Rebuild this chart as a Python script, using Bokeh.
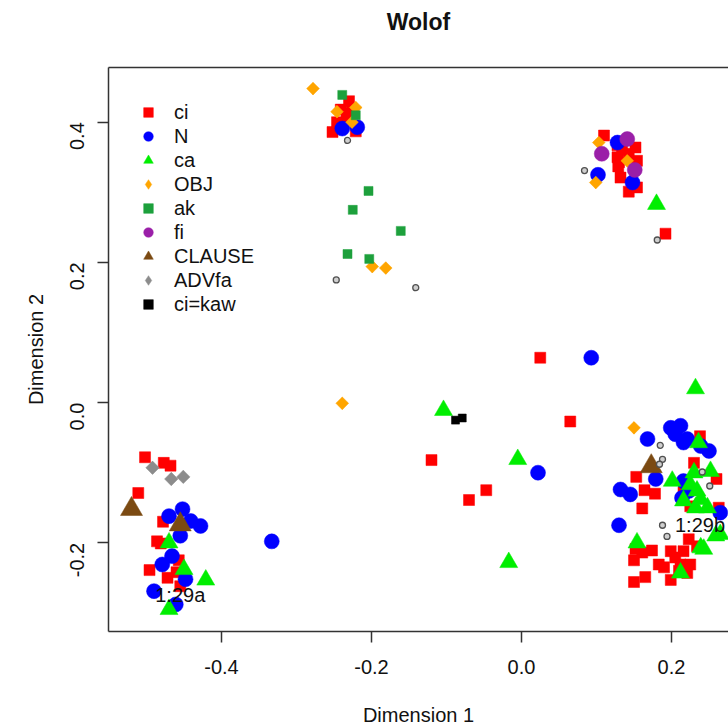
import math
from bokeh.plotting import figure
from bokeh.models import Range1d, FixedTicker, LinearAxis, Legend, LegendItem, ColumnDataSource
from bokeh.core.properties import value
from bokeh.embed import file_html
from bokeh.resources import INLINE

title_text = "Wolof"
x_label = "Dimension 1"
y_label = "Dimension 2"
x_ticks = [-0.4, -0.2, 0.0, 0.2]
x_tick_labels = ["-0.4", "-0.2", "0.0", "0.2"]
y_ticks = [-0.2, 0.0, 0.2, 0.4]
y_tick_labels = ["-0.2", "0.0", "0.2", "0.4"]

ci_x = [-0.502, -0.477, -0.468, -0.511, -0.478, -0.486, -0.481, -0.457, -0.496, -0.460, -0.472, -0.455,
        -0.230, -0.241, -0.233, -0.226, -0.246, -0.233, -0.252, -0.221,
        0.110, 0.128, 0.134, 0.128, 0.143, 0.152, 0.154, 0.130, 0.129, 0.132, 0.143, 0.154, 0.192,
        0.025, 0.065, -0.120, -0.047, -0.070,
        0.238, 0.230, 0.153, 0.164, 0.178, 0.260, 0.216, 0.161, 0.263, 0.225,
        0.152, 0.161, 0.174, 0.150, 0.183, 0.190, 0.199, 0.205, 0.216, 0.223, 0.234, 0.212,
        0.225, 0.210, 0.165, 0.150, 0.199, 0.221]
ci_y = [-0.078, -0.086, -0.090, -0.129, -0.170, -0.198, -0.201, -0.225, -0.239, -0.242, -0.250, -0.262,
        0.430, 0.418, 0.413, 0.417, 0.400, 0.403, 0.386, 0.387,
        0.381, 0.367, 0.360, 0.350, 0.355, 0.364, 0.345, 0.343, 0.337, 0.321, 0.301, 0.307, 0.241,
        0.064, -0.027, -0.082, -0.125, -0.139,
        -0.048, -0.086, -0.106, -0.125, -0.130, -0.109, -0.128, -0.151, -0.150, -0.148,
        -0.209, -0.214, -0.211, -0.225, -0.231, -0.235, -0.212, -0.221, -0.212, -0.195, -0.205, -0.231,
        -0.231, -0.240, -0.249, -0.256, -0.253, -0.243]

n_x = [-0.470, -0.452, -0.441, -0.428, -0.455, -0.466, -0.479, -0.448, -0.490, -0.461, -0.333,
       -0.239, -0.219,
       0.128, 0.102, 0.148,
       0.093, 0.022,
       0.168, 0.199, 0.212, 0.205, 0.221, 0.216, 0.239, 0.250, 0.179, 0.132, 0.145, 0.216, 0.223,
       0.214, 0.130, 0.265]
n_y = [-0.162, -0.152, -0.169, -0.176, -0.190, -0.219, -0.231, -0.252, -0.269, -0.288, -0.198,
       0.391, 0.393,
       0.371, 0.325, 0.314,
       0.064, -0.100,
       -0.052, -0.036, -0.033, -0.045, -0.052, -0.057, -0.062, -0.069, -0.109, -0.124, -0.131, -0.112, -0.126,
       -0.136, -0.175, -0.157]

ca_x = [-0.470, -0.450, -0.421, -0.470,
        0.180, -0.104, -0.005, -0.017,
        0.232, 0.236, 0.201, 0.230, 0.252, 0.225, 0.234, 0.239, 0.232, 0.216, 0.248, 0.265, 0.239,
        0.154, 0.243, 0.259, 0.212]
ca_y = [-0.200, -0.238, -0.253, -0.295,
        0.283, -0.011, -0.081, -0.228,
        0.020, -0.057, -0.112, -0.100, -0.098, -0.117, -0.126, -0.138, -0.150, -0.140, -0.150, -0.188, -0.207,
        -0.200, -0.209, -0.190, -0.243]

obj_x = [-0.278, -0.221, -0.246, -0.226, -0.199, -0.181, -0.239, 0.103, 0.141, 0.099, 0.150]
obj_y = [0.448, 0.421, 0.415, 0.400, 0.194, 0.192, -0.001, 0.371, 0.345, 0.314, -0.036]

ak_x = [-0.239, -0.221, -0.204, -0.225, -0.161, -0.232, -0.203]
ak_y = [0.439, 0.410, 0.302, 0.275, 0.245, 0.212, 0.205]

fi_x = [0.141, 0.107, 0.151]
fi_y = [0.376, 0.355, 0.332]

clause_x = [-0.520, -0.455, 0.173]
clause_y = [-0.152, -0.174, -0.091]

advfa_x = [-0.492, -0.467, -0.451]
advfa_y = [-0.093, -0.109, -0.106]

cikaw_x = [-0.088, -0.079]
cikaw_y = [-0.025, -0.022]

other_x = [-0.232, -0.247, -0.141, 0.084, 0.181, 0.185, 0.188, 0.184, 0.241, 0.251, 0.188, 0.194]
other_y = [0.374, 0.175, 0.164, 0.331, 0.232, -0.061, -0.081, -0.088, -0.099, -0.119, -0.175, -0.191]

note_x = [-0.455, 0.238]
note_y = [-0.274, -0.175]
note_text = ["1:29a", "1:29b"]

FONT = "Liberation Sans"
FS = "20px"
FRAME = "#333333"
INK = "#111111"

p = figure(width=728, height=728,
           x_range=Range1d(-0.5507, 0.2760), y_range=Range1d(-0.3266, 0.4781),
           output_backend="svg", toolbar_location=None,
           min_border_left=108, min_border_right=0, min_border_top=67, min_border_bottom=97)
p.outline_line_color = None
p.grid.visible = False
p.background_fill_color = "white"

for ax in (p.xaxis[0], p.yaxis[0]):
    ax.axis_line_color = FRAME
    ax.axis_line_width = 1.5
    ax.major_tick_line_color = FRAME
    ax.major_tick_line_width = 1.5
    ax.major_tick_out = 11
    ax.major_tick_in = 0
    ax.minor_tick_line_color = None
    ax.major_label_text_font = FONT
    ax.major_label_text_font_size = FS
    ax.major_label_text_color = INK
    ax.axis_label_text_font = FONT
    ax.axis_label_text_font_size = FS
    ax.axis_label_text_font_style = "normal"
    ax.axis_label_text_color = INK

p.xaxis[0].ticker = FixedTicker(ticks=x_ticks)
p.xaxis[0].major_label_overrides = {t: s for t, s in zip(x_ticks, x_tick_labels)}
p.xaxis[0].axis_label = x_label
p.xaxis[0].major_label_standoff = 17
p.xaxis[0].axis_label_standoff = 27

p.yaxis[0].ticker = FixedTicker(ticks=y_ticks)
p.yaxis[0].major_label_overrides = {t: s for t, s in zip(y_ticks, y_tick_labels)}
p.yaxis[0].axis_label = y_label
p.yaxis[0].major_label_orientation = math.pi / 2
p.yaxis[0].major_label_standoff = 20
p.yaxis[0].axis_label_standoff = 14

# top frame line; it also carries the chart title as its label
top_axis = LinearAxis(ticker=FixedTicker(ticks=[]), axis_line_color=FRAME, axis_line_width=1.5,
                      major_tick_line_color=None, minor_tick_line_color=None,
                      major_label_text_font_size="0px",
                      axis_label=title_text, axis_label_text_font=FONT,
                      axis_label_text_font_size="23px", axis_label_text_font_style="bold",
                      axis_label_text_color=INK, axis_label_standoff=33)
p.add_layout(top_axis, "above")

series = [
    ("ci", ci_x, ci_y, "square", "#FF0000", 11, 0.0),
    ("N", n_x, n_y, "circle", "#0000FF", 15, 0.0),
    ("ca", ca_x, ca_y, "triangle", "#00EE00", 18, 0.0),
    ("OBJ", obj_x, obj_y, "square", "#FFA500", 9, math.pi / 4),
    ("ak", ak_x, ak_y, "square", "#1DA03C", 9, 0.0),
    ("fi", fi_x, fi_y, "circle", "#9A1FA8", 15, 0.0),
    ("CLAUSE", clause_x, clause_y, "triangle", "#7B4A12", 22, 0.0),
    ("ADVfa", advfa_x, advfa_y, "square", "#8C8C8C", 9.5, math.pi / 4),
    ("ci=kaw", cikaw_x, cikaw_y, "square", "#000000", 8, 0.0),
]

items = []
for name, xs, ys, marker, color, size, ang in series:
    src = ColumnDataSource(dict(x=xs, y=ys))
    if ang != 0.0:
        # a plain diamond underneath (hidden by the rotated square) gives the legend swatch,
        # since legend glyphs ignore the rotation
        r_leg = p.scatter("x", "y", source=src, marker="diamond", size=size * 1.3,
                          fill_color=color, line_color=color, line_width=0.5)
        p.scatter("x", "y", source=src, marker=marker, size=size, angle=ang,
                  fill_color=color, line_color=color, line_width=0.5)
        items.append(LegendItem(label=name, renderers=[r_leg]))
    else:
        r = p.scatter("x", "y", source=src, marker=marker, size=size, angle=ang,
                      fill_color=color, line_color=color, line_width=0.5)
        items.append(LegendItem(label=name, renderers=[r]))

osrc = ColumnDataSource(dict(x=other_x, y=other_y))
p.scatter("x", "y", source=osrc, marker="circle", size=6, fill_color="#cfcfcf",
          line_color="#505050", line_width=1.3)

nsrc = ColumnDataSource(dict(x=note_x, y=note_y, t=note_text))
p.text("x", "y", text="t", source=nsrc, text_align="center", text_baseline="middle",
       text_font=value(FONT), text_font_size=FS, text_color=INK)

legend = Legend(items=items, location=(28, 315), margin=0, padding=0,
                border_line_color=None, background_fill_alpha=0,
                glyph_width=24, glyph_height=24, label_height=24, spacing=0,
                label_standoff=14, label_text_font=FONT, label_text_font_size=FS,
                label_text_color=INK)
p.add_layout(legend)

html = file_html(p, INLINE)
open("out.html", "w").write(html)
